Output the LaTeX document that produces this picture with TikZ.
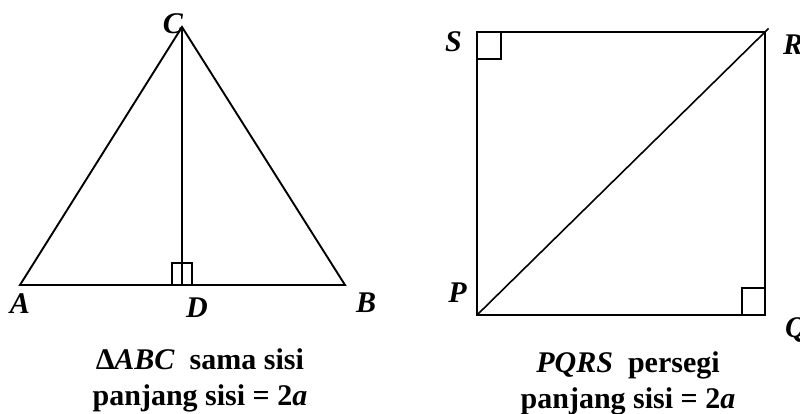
\documentclass[tikz,border=0pt]{standalone}
\usepackage{fontspec}
\setmainfont{Liberation Serif}
\usetikzlibrary{positioning}

\begin{document}
\begin{tikzpicture}[
    x=1pt, y=-1pt,
    edge/.style={line width=1.9pt, line join=miter},
    thinedge/.style={line width=1.6pt},
    rightbox/.style={line width=1.8pt},
    vlabel/.style={
        font=\fontsize{30}{32}\selectfont\bfseries\itshape,
        inner sep=0pt
    },
    caption/.style={
        font=\fontsize{30}{36}\selectfont\bfseries,
        inner sep=0pt,
        anchor=base
    }
]
\useasboundingbox (0,0) rectangle (800,413);

% triangle ABC
\coordinate (A) at (20,285);
\coordinate (B) at (345,285);
\coordinate (C) at (182,27);
\coordinate (D) at (182,285);

\draw[edge] (A) -- (B) -- (C) -- cycle;
\draw[thinedge] (C) -- (D);
\draw[rightbox] (172,285) rectangle (192,263);

\node[vlabel, below=8pt of A] (lblA) {A};
\node[vlabel, below=13pt of D, xshift=15pt] (lblD) {D};
\node[vlabel, below=8pt of B, xshift=21pt] (lblB) {B};
\node[vlabel, left=-1pt of C, yshift=3pt] (lblC) {C};

% square PQRS
\coordinate (P) at (477,315);
\coordinate (Q) at (765,315);
\coordinate (R) at (765,32);
\coordinate (S) at (477,32);

\draw[edge] (P) -- (Q) -- (R) -- (S) -- cycle;
\draw[thinedge, shorten >=-5pt] (P) -- (R);
\draw[rightbox] (S) rectangle (501,59);
\draw[rightbox] (Q) rectangle (742,288);

\node[vlabel, left=15pt of S, yshift=-10pt] (lblS) {S};
\node[vlabel, right=18pt of R, yshift=-13pt] (lblR) {R};
\node[vlabel, left=10pt of P, yshift=22pt] (lblP) {P};
\node[vlabel, right=20pt of Q, yshift=-15pt] (lblQ) {Q};

% captions
\node[caption] (capT1) at (200,369) {∆\textit{ABC}\ \ sama sisi};
\node[caption] (capT2) at (200,405) {panjang sisi = 2\textit{a}};
\node[caption] (capS1) at (628,372) {\textit{PQRS}\ \ persegi};
\node[caption] (capS2) at (628,408) {panjang sisi = 2\textit{a}};

\end{tikzpicture}
\end{document}
